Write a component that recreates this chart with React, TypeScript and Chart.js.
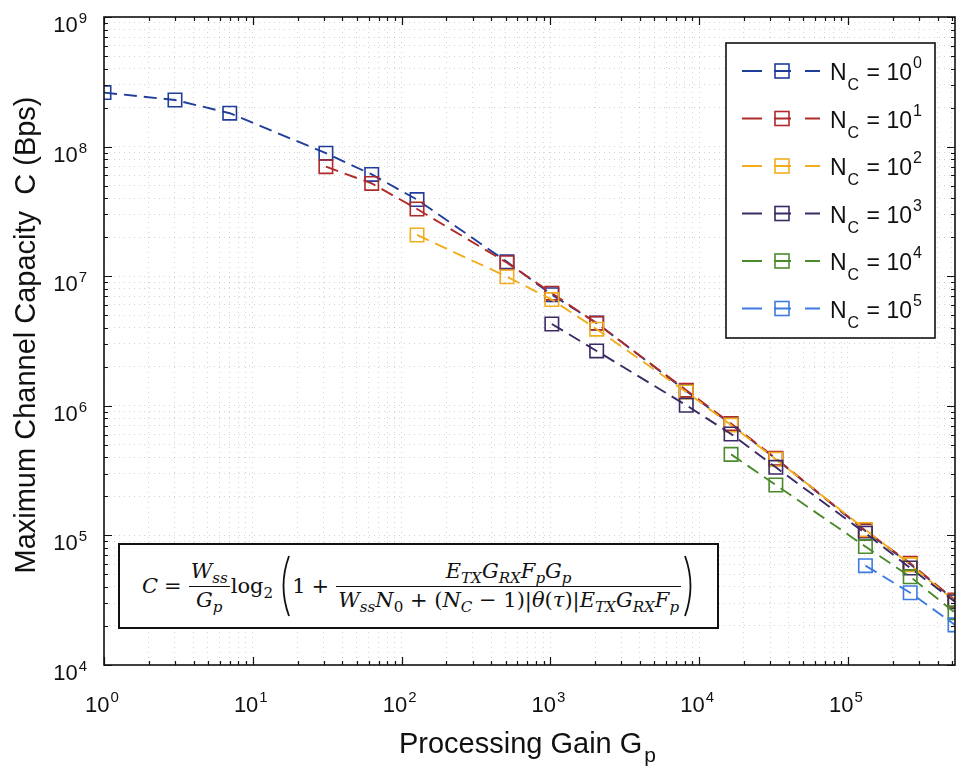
import React, { useEffect, useRef } from 'react';
import Chart from 'chart.js/auto';

// ---- data ----
const gains = [1, 3, 7, 31, 63, 127, 511, 1023, 2047, 8191, 16383, 32767, 131071, 262143, 524287];
const capNc1 = [2.61e8, 2.29e8, 1.81e8, 8.9e7, 6.1e7, 3.9e7, 1.29e7, 7.2e6, 4.35e6, 1.3e6, 7.2e5, 3.9e5, 1.08e5, 6.0e4, 3.15e4];
const capNc10 = [null, null, null, 7.0e7, 5.2e7, 3.3e7, 1.27e7, 7.4e6, 4.33e6, 1.32e6, 7.3e5, 3.93e5, 1.09e5, 6.1e4, 3.17e4];
const capNc100 = [null, null, null, null, null, 2.08e7, 9.9e6, 6.6e6, 3.9e6, 1.28e6, 7.1e5, 3.87e5, 1.11e5, 5.95e4, 3.1e4];
const capNc1000 = [null, null, null, null, null, null, null, 4.28e6, 2.65e6, 1.01e6, 6.06e5, 3.35e5, 1.04e5, 5.6e4, 3.08e4];
const capNc1e4 = [null, null, null, null, null, null, null, null, null, null, 4.22e5, 2.45e5, 8.2e4, 4.8e4, 2.53e4];
const capNc1e5 = [null, null, null, null, null, null, null, null, null, null, null, null, 5.84e4, 3.61e4, 2.04e4];
const seriesValues = [capNc1, capNc10, capNc100, capNc1000, capNc1e4, capNc1e5];
const seriesExps = ['0', '1', '2', '3', '4', '5'];
const seriesColors = ['#1f3d99', '#b02a2a', '#f0ae1e', '#3b2a63', '#4b8a2c', '#3d7be0'];
const xTickExps = [0, 1, 2, 3, 4, 5];
const yTickExps = [4, 5, 6, 7, 8, 9];
const xMin = 1;
const xMax = 524287;
const yMin = 1e4;
const yMax = 1e9;
const xTitle = 'Processing Gain G';
const xTitleSub = 'p';
const yTitle = 'Maximum Channel Capacity  C (Bps)';

const SANS = '"Liberation Sans", Arial, Helvetica, sans-serif';
const INK = '#111';

function isPow10(v: number) {
  const l = Math.log10(v);
  return Math.abs(l - Math.round(l)) < 1e-9;
}

function logTickValues(minExp: number, maxExp: number, maxVal: number) {
  const out: number[] = [];
  for (let e = minExp; e <= maxExp; e++) {
    for (let m = 1; m <= 9; m++) {
      const v = m * Math.pow(10, e);
      if (v <= maxVal * 1.000001) out.push(v);
    }
  }
  return out;
}

const decorPlugin = {
  id: 'decor',
  afterDraw(chart: any) {
    const { ctx, chartArea: a, scales } = chart;
    const xs = scales.x;
    const ys = scales.y;
    ctx.save();
    // inward tick marks on all four sides
    ctx.strokeStyle = INK;
    ctx.lineWidth = 1.2;
    ctx.beginPath();
    xs.ticks.forEach((t: any) => {
      const px = Math.round(xs.getPixelForValue(t.value)) + 0.5;
      if (px < a.left - 1 || px > a.right + 1) return;
      const len = isPow10(t.value) ? 8 : 4;
      ctx.moveTo(px, a.bottom);
      ctx.lineTo(px, a.bottom - len);
      ctx.moveTo(px, a.top);
      ctx.lineTo(px, a.top + len);
    });
    ys.ticks.forEach((t: any) => {
      const py = Math.round(ys.getPixelForValue(t.value)) + 0.5;
      const len = isPow10(t.value) ? 8 : 4;
      ctx.moveTo(a.left, py);
      ctx.lineTo(a.left + len, py);
      ctx.moveTo(a.right, py);
      ctx.lineTo(a.right - len, py);
    });
    ctx.stroke();
    // axes box
    ctx.lineWidth = 1.6;
    ctx.strokeRect(a.left, a.top, a.right - a.left, a.bottom - a.top);

    // tick labels 10^n
    const baseF = `22px ${SANS}`;
    const supF = `15px ${SANS}`;
    ctx.fillStyle = INK;
    ctx.textAlign = 'left';
    ctx.textBaseline = 'alphabetic';
    xTickExps.forEach((e) => {
      const px = xs.getPixelForValue(Math.pow(10, e));
      ctx.font = baseF;
      const w1 = ctx.measureText('10').width;
      ctx.font = supF;
      const w2 = ctx.measureText(String(e)).width;
      const x0 = px - (w1 + w2 + 1) / 2 - 2;
      ctx.font = baseF;
      ctx.fillText('10', x0, a.bottom + 47);
      ctx.font = supF;
      ctx.fillText(String(e), x0 + w1 + 1, a.bottom + 37);
    });
    yTickExps.forEach((e) => {
      const py = ys.getPixelForValue(Math.pow(10, e));
      ctx.font = baseF;
      const w1 = ctx.measureText('10').width;
      ctx.font = supF;
      const w2 = ctx.measureText(String(e)).width;
      const x0 = a.left - 17 - (w1 + 1 + w2);
      ctx.font = baseF;
      ctx.fillText('10', x0, py + 15);
      ctx.font = supF;
      ctx.fillText(String(e), x0 + w1 + 1, py + 6);
    });

    // axis titles
    const titleF = `29px ${SANS}`;
    const subF = `21px ${SANS}`;
    ctx.font = titleF;
    const tw = ctx.measureText(xTitle).width;
    ctx.font = subF;
    const sw = ctx.measureText(xTitleSub).width;
    const cx = (a.left + a.right) / 2;
    const tx0 = cx - (tw + 2 + sw) / 2 - 2;
    ctx.font = titleF;
    ctx.fillText(xTitle, tx0, a.bottom + 88);
    ctx.font = subF;
    ctx.fillText(xTitleSub, tx0 + tw + 2, a.bottom + 97);

    ctx.save();
    ctx.translate(a.left - 69, (a.top + a.bottom) / 2 - 6);
    ctx.rotate(-Math.PI / 2);
    ctx.font = titleF;
    ctx.textAlign = 'center';
    ctx.fillText(yTitle, 0, 0);
    ctx.restore();

    // legend
    const lx = a.right - 229;
    const ly = a.top + 26;
    const lw = 209;
    const lh = 295;
    ctx.fillStyle = '#fff';
    ctx.fillRect(lx, ly, lw, lh);
    ctx.strokeStyle = INK;
    ctx.lineWidth = 1.6;
    ctx.strokeRect(lx, ly, lw, lh);
    const legF = `23px ${SANS}`;
    const legSubF = `16px ${SANS}`;
    seriesExps.forEach((ex, i) => {
      const y = ly + 28 + i * 47.5;
      const col = seriesColors[i];
      ctx.strokeStyle = col;
      ctx.lineWidth = 1.9;
      ctx.beginPath();
      ctx.moveTo(lx + 16, y); ctx.lineTo(lx + 36, y);
      ctx.moveTo(lx + 48, y); ctx.lineTo(lx + 65, y);
      ctx.moveTo(lx + 79, y); ctx.lineTo(lx + 94, y);
      ctx.stroke();
      ctx.lineWidth = 1.6;
      ctx.strokeRect(lx + 56 - 7, y - 7, 14, 14);
      ctx.fillStyle = INK;
      ctx.textAlign = 'left';
      let x = lx + 104;
      ctx.font = legF;
      ctx.fillText('N', x, y + 9);
      x += ctx.measureText('N').width + 1;
      ctx.font = legSubF;
      ctx.fillText('C', x, y + 19);
      x += ctx.measureText('C').width + 1;
      ctx.font = legF;
      ctx.fillText(' = 10', x, y + 9);
      x += ctx.measureText(' = 10').width + 1;
      ctx.font = legSubF;
      ctx.fillText(ex, x, y - 3);
    });
    ctx.restore();
  },
};

function Sub({ children }: { children: any }) {
  return <sub style={{ fontSize: '0.72em', verticalAlign: '-0.32em', lineHeight: 0 }}>{children}</sub>;
}

function Frac({ num, den }: { num: any; den: any }) {
  return (
    <span style={{ display: 'inline-flex', flexDirection: 'column', alignItems: 'center', margin: '0 1px' }}>
      <span style={{ padding: '0 2px 3px', lineHeight: 1.1 }}>{num}</span>
      <span style={{ alignSelf: 'stretch', borderTop: '1.3px solid #111' }} />
      <span style={{ padding: '2px 2px 0', lineHeight: 1.1 }}>{den}</span>
    </span>
  );
}

function Paren({ flip }: { flip?: boolean }) {
  return (
    <svg width="13" height="64" viewBox="0 0 13 64" style={{ display: 'block', transform: flip ? 'scaleX(-1)' : undefined, margin: '0 1px' }}>
      <path d="M11 2 Q0 32 11 62" fill="none" stroke="#111" strokeWidth="1.8" />
    </svg>
  );
}

function Formula() {
  const it = (s: string) => <i>{s}</i>;
  return (
    <div
      style={{
        position: 'absolute', left: 118, top: 543, width: 601, height: 86, boxSizing: 'border-box',
        border: '2px solid #111', background: '#fff', display: 'flex', alignItems: 'center',
        justifyContent: 'center', fontFamily: "'DejaVu Serif', 'Liberation Serif', serif", fontSize: 21,
        color: INK, whiteSpace: 'nowrap', paddingLeft: 2,
      }}
    >
      <span>{it('C')}</span>
      <span style={{ margin: '0 6px' }}>=</span>
      <Frac num={<>{it('W')}<Sub>{it('ss')}</Sub></>} den={<>{it('G')}<Sub>{it('p')}</Sub></>} />
      <span>log<Sub>2</Sub></span>
      <span style={{ marginLeft: 4 }}><Paren /></span>
      <span>1</span>
      <span style={{ margin: '0 6px' }}>+</span>
      <Frac
        num={<>{it('E')}<Sub>{it('TX')}</Sub>{it('G')}<Sub>{it('RX')}</Sub>{it('F')}<Sub>{it('p')}</Sub>{it('G')}<Sub>{it('p')}</Sub></>}
        den={<>{it('W')}<Sub>{it('ss')}</Sub>{it('N')}<Sub>0</Sub> + ({it('N')}<Sub>{it('C')}</Sub> − 1)|{it('θ')}({it('τ')})|{it('E')}<Sub>{it('TX')}</Sub>{it('G')}<Sub>{it('RX')}</Sub>{it('F')}<Sub>{it('p')}</Sub></>}
      />
      <span><Paren flip /></span>
    </div>
  );
}

export default function App() {
  const ref = useRef<HTMLCanvasElement | null>(null);
  useEffect(() => {
    if (!ref.current) return;
    const datasets = seriesValues.map((vals, i) => ({
      label: 'N_C = 10^' + seriesExps[i],
      data: gains
        .map((g, j) => ({ x: g, y: vals[j] }))
        .filter((p) => p.y !== null && p.y !== undefined),
      borderColor: seriesColors[i],
      backgroundColor: 'rgba(0,0,0,0)',
      borderWidth: 1.9,
      borderDash: [13, 7],
      pointStyle: 'rect',
      pointRadius: 9.5,
      pointBorderWidth: 1.6,
      pointBorderColor: seriesColors[i],
      pointBackgroundColor: 'rgba(0,0,0,0)',
      tension: 0,
      fill: false,
      order: 5 - i,
    }));
    const gridCommon = { color: 'rgba(0,0,0,0.17)', lineWidth: 1, drawTicks: false };
    const chart = new Chart(ref.current, {
      type: 'line',
      data: { datasets } as any,
      options: {
        animation: false,
        responsive: false,
        layout: { autoPadding: false, padding: { left: 104, top: 17, right: 2, bottom: 105 } },
        plugins: { legend: { display: false }, tooltip: { enabled: false } },
        scales: {
          x: {
            type: 'logarithmic',
            min: xMin,
            max: xMax,
            ticks: { display: false },
            grid: gridCommon,
            border: { display: false, dash: [1, 4] },
            afterBuildTicks: (s: any) => {
              s.ticks = logTickValues(xTickExps[0], xTickExps[xTickExps.length - 1], xMax).map((v) => ({ value: v, major: isPow10(v) }));
            },
          },
          y: {
            type: 'logarithmic',
            min: yMin,
            max: yMax,
            ticks: { display: false },
            grid: gridCommon,
            border: { display: false, dash: [1, 4] },
            afterBuildTicks: (s: any) => {
              s.ticks = logTickValues(yTickExps[0], yTickExps[yTickExps.length - 1], yMax).map((v) => ({ value: v, major: isPow10(v) }));
            },
          },
        },
      } as any,
      plugins: [decorPlugin],
    });
    return () => chart.destroy();
  }, []);
  return (
    <div style={{ position: 'absolute', left: 0, top: 0, width: 957, height: 770, background: '#fff' }}>
      <canvas ref={ref} width={957} height={770} style={{ display: 'block' }} />
      <Formula />
    </div>
  );
}
